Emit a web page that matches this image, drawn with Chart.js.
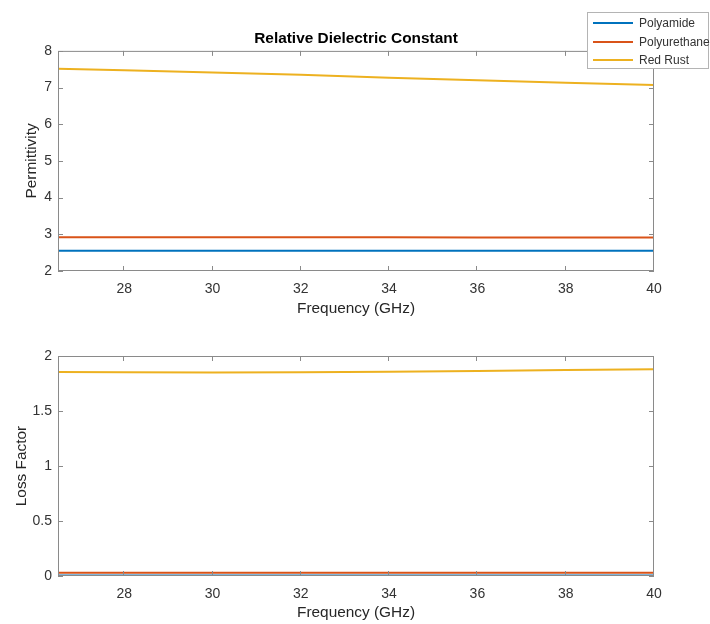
<!DOCTYPE html>
<html>
<head>
<meta charset="utf-8">
<script src="https://cdn.jsdelivr.net/npm/chart.js@4.4.0/dist/chart.umd.min.js"></script>
<style>
  html, body { margin: 0; padding: 0; background: #fff; }
  #wrap { position: relative; width: 710px; height: 624px; overflow: hidden; }
  #wrap canvas { position: absolute; left: 0; }
  #permCanvas { top: 0; }
  #lossCanvas { top: 320px; }
  #legend {
    position: absolute; left: 587px; top: 12px; width: 122px; height: 57px;
    border: 1px solid #b4b4b4; background: #fff; box-sizing: border-box;
    font: 12px "Liberation Sans", Arial, sans-serif; color: #333;
  }
  #legend .row { position: absolute; left: 5px; height: 16px; line-height: 16px; white-space: nowrap; }
  #legend .swatch { position: absolute; left: 0; top: 7px; width: 40px; height: 2px; }
  #legend .label { position: absolute; left: 46px; top: 0; }
</style>
</head>
<body>
<div id="wrap">
  <canvas id="permCanvas" width="710" height="320"></canvas>
  <canvas id="lossCanvas" width="710" height="304"></canvas>
  <div id="legend"></div>
</div>
<script>
// frequency sweep (GHz) shared by both panels
const freqGHz = [26.5, 28, 30, 32, 34, 36, 38, 40];
const freqTicks = [28, 30, 32, 34, 36, 38, 40];

const materials = ["Polyamide", "Polyurethane", "Red Rust"];
const colors = ["#0072BD", "#D95319", "#EDB120"];

// relative permittivity (real part)
const permPolyamide = [2.55, 2.55, 2.55, 2.55, 2.55, 2.55, 2.55, 2.55];
const permPolyurethane = [2.92, 2.92, 2.92, 2.92, 2.92, 2.91, 2.91, 2.91];
const permRedRust = [7.51, 7.47, 7.41, 7.35, 7.27, 7.20, 7.13, 7.07];
const permTicks = [2, 3, 4, 5, 6, 7, 8];

// loss factor (imaginary part)
const lossPolyamide = [0.005, 0.005, 0.005, 0.005, 0.005, 0.005, 0.005, 0.005];
const lossPolyurethane = [0.03, 0.03, 0.03, 0.03, 0.03, 0.03, 0.03, 0.03];
const lossRedRust = [1.855, 1.852, 1.85, 1.852, 1.857, 1.864, 1.872, 1.88];
const lossTicks = [0, 0.5, 1, 1.5, 2];

Chart.defaults.font.family = '"Liberation Sans", Arial, sans-serif';
Chart.defaults.color = "#262626";

function toPoints(ys) {
  return freqGHz.map((f, i) => ({ x: f, y: ys[i] }));
}

function makeDatasets(series) {
  return series.map((ys, i) => ({
    label: materials[i],
    data: toPoints(ys),
    borderColor: colors[i],
    backgroundColor: colors[i],
    borderWidth: 2,
    pointRadius: 0,
    tension: 0,
  }));
}

// box around the axes with inward tick marks on all four sides
const axesBox = {
  id: "axesBox",
  afterDatasetsDraw(chart) {
    const { ctx, chartArea: a, scales } = chart;
    const len = 5;
    ctx.save();
    ctx.strokeStyle = "#8a8a8a";
    ctx.lineWidth = 1;
    ctx.strokeRect(a.left + 0.5, a.top + 0.5, a.right - a.left - 1, a.bottom - a.top - 1);
    ctx.beginPath();
    scales.x.ticks.forEach((t) => {
      const px = Math.round(scales.x.getPixelForValue(t.value)) - 0.5;
      ctx.moveTo(px, a.bottom);
      ctx.lineTo(px, a.bottom - len);
      ctx.moveTo(px, a.top);
      ctx.lineTo(px, a.top + len);
    });
    scales.y.ticks.forEach((t) => {
      const py = Math.round(scales.y.getPixelForValue(t.value)) + 0.5;
      ctx.moveTo(a.left, py);
      ctx.lineTo(a.left + len, py);
      ctx.moveTo(a.right, py);
      ctx.lineTo(a.right - len, py);
    });
    ctx.stroke();
    ctx.restore();
  },
};

function makeChart(canvasId, opts) {
  return new Chart(document.getElementById(canvasId), {
    type: "line",
    data: { datasets: makeDatasets(opts.series) },
    options: {
      responsive: false,
      animation: false,
      layout: { padding: { left: 0, right: 56, top: opts.padTop, bottom: 0 } },
      plugins: {
        legend: { display: false },
        tooltip: { enabled: false },
        title: opts.title
          ? {
              display: true,
              text: opts.title,
              fullSize: false,
              color: "#000",
              font: { size: 15.4, weight: "bold" },
              padding: { top: 29.5, bottom: 2.9 },
            }
          : { display: false },
      },
      scales: {
        x: {
          type: "linear",
          min: 26.5,
          max: 40,
          grid: { display: false, drawTicks: false },
          border: { display: false },
          afterBuildTicks: (s) => { s.ticks = freqTicks.map((v) => ({ value: v })); },
          afterFit: (s) => { s.height = opts.xAxisHeight; },
          ticks: { font: { size: 14 }, padding: 10, maxRotation: 0, color: "#333" },
          title: {
            display: true,
            text: "Frequency (GHz)",
            font: { size: 15.4 },
            color: "#262626",
            padding: { top: 0, bottom: 2 },
          },
        },
        y: {
          type: "linear",
          min: opts.yMin,
          max: opts.yMax,
          grid: { display: false, drawTicks: false },
          border: { display: false },
          afterBuildTicks: (s) => { s.ticks = opts.yTicks.map((v) => ({ value: v })); },
          afterFit: (s) => { s.width = 58; },
          ticks: { font: { size: 14 }, padding: 6, color: "#333", callback: (v) => String(v) },
          title: {
            display: true,
            text: opts.yTitle,
            font: { size: 15.4 },
            color: "#262626",
            padding: { top: opts.yTitlePad, bottom: 0 },
          },
        },
      },
    },
    plugins: [axesBox],
  });
}

makeChart("permCanvas", {
  series: [permPolyamide, permPolyurethane, permRedRust],
  title: "Relative Dielectric Constant",
  padTop: 0,
  xAxisHeight: 49,
  yMin: 2,
  yMax: 8,
  yTicks: permTicks,
  yTitle: "Permittivity",
  yTitlePad: 23,
});

makeChart("lossCanvas", {
  series: [lossPolyamide, lossPolyurethane, lossRedRust],
  title: null,
  padTop: 36,
  xAxisHeight: 48,
  yMin: 0,
  yMax: 2,
  yTicks: lossTicks,
  yTitle: "Loss Factor",
  yTitlePad: 13,
});

// legend box shared by both panels
const legendEl = document.getElementById("legend");
const rowTops = [2, 20.5, 39];
materials.forEach((name, i) => {
  const row = document.createElement("div");
  row.className = "row";
  row.style.top = rowTops[i] + "px";
  const sw = document.createElement("span");
  sw.className = "swatch";
  sw.style.background = colors[i];
  const lb = document.createElement("span");
  lb.className = "label";
  lb.textContent = name;
  row.appendChild(sw);
  row.appendChild(lb);
  legendEl.appendChild(row);
});
</script>
</body>
</html>
